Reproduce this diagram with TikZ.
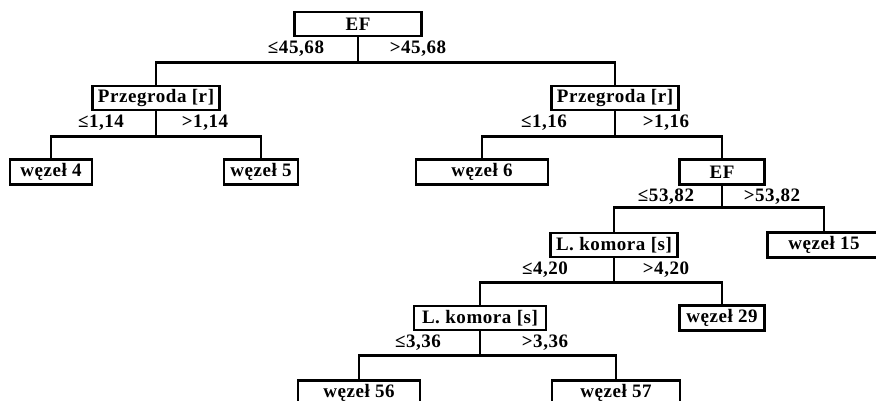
\documentclass[tikz,border=0pt]{standalone}
\usepackage{fontspec}
\setmainfont{Liberation Serif}[LetterSpace=3]
\usepackage{tikz}
\usetikzlibrary{positioning}
\tikzstyle{split} = [rectangle, minimum width=127pt, minimum height=24pt, inner sep=0pt, text centered, draw=black, line width=2.7pt, font=\bfseries\fontsize{19}{21}\selectfont]
\tikzstyle{leaf} = [rectangle, minimum height=25pt, inner sep=0pt, text centered, draw=black, line width=2.7pt, font=\bfseries\fontsize{19}{21}\selectfont]
\tikzstyle{cond} = [inner sep=0pt, font=\bfseries\fontsize{19}{21}\selectfont]
\tikzstyle{conn} = [line width=2.7pt]

\begin{document}
\begin{tikzpicture}[x=1pt, y=-1pt, scale=1, every node/.style={scale=1}]
		
		\useasboundingbox (0,0) rectangle (876,401);
		
		\node (ef1) [split] at (358,24) {EF};
		
		\node (prz1) [split] at (156,98) {Przegroda [r]};
		\node (prz2) [split] at (615,98) {Przegroda [r]};
		
		\node (w4) [leaf, minimum width=82pt] at (51,172) {węzeł 4};
		\node (w5) [leaf, minimum width=74pt] at (261,172) {węzeł 5};
		\node (w6) [leaf, minimum width=132pt] at (482,172) {węzeł 6};
		\node (ef2) [leaf, minimum width=85pt] at (722,172) {EF};
		
		\node (kom1) [split] at (614,245) {L. komora [s]};
		\node (w15) [leaf, minimum width=113pt] at (824,245) {węzeł 15};
		
		\node (kom2) [split, minimum width=132pt] at (480,318) {L. komora [s]};
		\node (w29) [leaf, minimum width=85pt] at (722,318) {węzeł 29};
		
		\node (w56) [leaf, minimum width=122pt] at (359,393) {węzeł 56};
		\node (w57) [leaf, minimum width=128pt] at (616,393) {węzeł 57};
		
		\path (ef1.south) ++(0,25) coordinate (h0);
		\path (prz1.south) ++(0,25) coordinate (h1);
		\path (prz2.south) ++(0,25) coordinate (h2);
		\path (ef2.south) ++(0,22) coordinate (h3);
		\path (kom1.south) ++(0,24) coordinate (h4);
		\path (kom2.south) ++(0,24) coordinate (h5);
		
		\node (c0a) [cond] at (296,49) {≤45,68};
		\node (c0b) [cond] at (418,49) {>45,68};
		\node (c1a) [cond] at (101,123) {≤1,14};
		\node (c1b) [cond] at (205,123) {>1,14};
		\node (c2a) [cond] at (544,123) {≤1,16};
		\node (c2b) [cond] at (666,123) {>1,16};
		\node (c3a) [cond] at (666,197) {≤53,82};
		\node (c3b) [cond] at (772,197) {>53,82};
		\node (c4a) [cond] at (545,270) {≤4,20};
		\node (c4b) [cond] at (666,270) {>4,20};
		\node (c5a) [cond] at (418,343) {≤3,36};
		\node (c5b) [cond] at (545,343) {>3,36};
		
		\draw [conn] (ef1) -- (h0);
		\draw [conn] (prz1) |- (h0) -| (prz2);
		
		\draw [conn] (prz1) -- (h1);
		\draw [conn] (w4) |- (h1) -| (w5);
		
		\draw [conn] (prz2) -- (h2);
		\draw [conn] (w6) |- (h2) -| (ef2);
		
		\draw [conn] (ef2) -- (h3);
		\draw [conn] (kom1) |- (h3) -| (w15);
		
		\draw [conn] (kom1) -- (h4);
		\draw [conn] (kom2) |- (h4) -| (w29);
		
		\draw [conn] (kom2) -- (h5);
		\draw [conn] (w56) |- (h5) -| (w57);
		
		\end{tikzpicture}
\end{document}
